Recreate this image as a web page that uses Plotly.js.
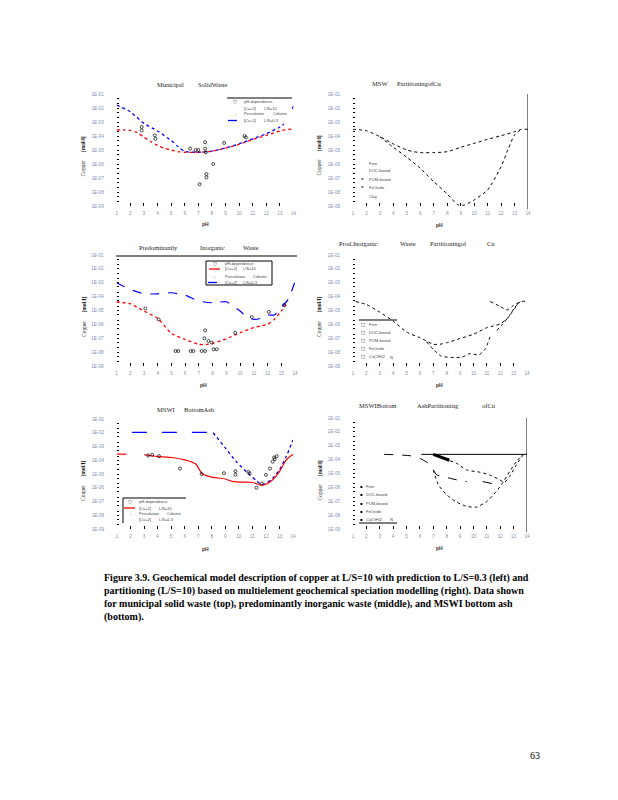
<!DOCTYPE html>
<html><head><meta charset="utf-8">
<script src="https://cdn.plot.ly/plotly-3.0.1.min.js"></script>
<style>html,body{margin:0;padding:0;background:#fff}#chart{width:618px;height:800px}</style>
</head><body><div id="chart"></div>
<script>
// ---------- tick labels ----------
const pHTicks = [1,2,3,4,5,6,7,8,9,10,11,12,13,14];
const concTickVals = [1e-1,1e-2,1e-3,1e-4,1e-5,1e-6,1e-7,1e-8,1e-9];
const concTickText = ['1E-01','1E-02','1E-03','1E-04','1E-05','1E-06','1E-07','1E-08','1E-09'];

// ---------- Municipal Solid Waste (left) ----------
const mswLS10X = [1,1.5,2,2.5,3,3.5,4,4.5,5,5.5,6,7,8,9,10,11,12,13,14];
const mswLS10Y = [2.8e-4,2.7e-4,2.5e-4,1.8e-4,8.3e-5,4.0e-5,2.1e-5,1.35e-5,1.0e-5,7.6e-6,6.9e-6,6.9e-6,8.3e-6,1.35e-5,2.5e-5,5.6e-5,1.1e-4,2.3e-4,3.3e-4];
const mswLS03X = [1,2,3,4,5,5.5,6,7,8,9,10,11,12,13,13.3,null,13.9,14];
const mswLS03Y = [1.6e-2,5.4e-3,7.9e-4,2.3e-4,4.8e-5,1.8e-5,7.9e-6,6.9e-6,8.3e-6,1.4e-5,2.75e-5,6.3e-5,1.45e-4,4.4e-4,7.1e-4,null,8.9e-3,1.35e-2];
const mswPhDepX = [2.84,2.84,3.8,3.85,6.4,6.8,7.0,7.1,7.5,7.5,7.55,7.6,7.6,8.1,8.9,10.4,10.5];
const mswPhDepY = [4.4e-4,2.5e-4,1.1e-4,6.3e-5,1.26e-5,1.0e-5,1.0e-5,3.6e-8,3.6e-5,1.26e-5,6.9e-6,1.1e-7,1.9e-7,1.0e-6,3.2e-5,1.0e-4,7.9e-5];

// ---------- MSW partitioning (right) ----------
const mswFreeX = [1,2,3,4,5,5.5,6,7,8,9,10,11,12,13,13.5,14];
const mswFreeY = [3.0e-4,2.4e-4,8.9e-5,2.7e-5,1.0e-5,7.6e-6,6.5e-6,6.5e-6,7.6e-6,1.55e-5,3.0e-5,5.8e-5,1.05e-4,2.0e-4,3.0e-4,3.0e-4];
const mswDocX = [3,4,5,6,7,8,8.8,9.3,10,11,12,12.5,13,13.5];
const mswDocY = [8.9e-5,1.55e-5,3.0e-6,4.9e-7,5.5e-8,7.2e-9,1.2e-9,1.2e-9,2.7e-9,1.4e-8,6.5e-7,1.0e-5,1.2e-4,3.0e-4];

// ---------- Predominantly Inorganic Waste (left) ----------
const piwLS10X = [1,2,3,4,5,6,7,7.5,8,9,10,11,11.5,12,12.5,13,13.5];
const piwLS10Y = [4.1e-5,3.1e-5,9.1e-6,2.7e-6,2.2e-7,8.3e-8,3.6e-8,3.6e-8,4.3e-8,9.3e-8,2.5e-7,5.8e-7,7.6e-7,1.0e-6,2.3e-6,9.1e-6,4.1e-5];
const piwLS03X = [1,2,3,4,5,6,7,8,8.5,9,9.5,10,10.5,11,11.5,12,12.5,13,13.5,14];
const piwLS03Y = [1.0e-3,3.3e-4,1.6e-4,1.6e-4,1.9e-4,1.26e-4,4.8e-5,3.6e-5,4.0e-5,4.3e-5,2.0e-5,9.1e-6,3.4e-6,2.3e-6,2.7e-6,4.7e-6,4.7e-6,1.6e-5,6.3e-5,1.2e-3];
const piwPhDepX = [3.1,4.07,5.3,5.5,6.4,6.6,7.2,7.45,7.46,7.4,7.7,7.95,8.07,8.3,9.64,10.85,12.1,13.2];
const piwPhDepY = [1.4e-5,2.3e-6,1.2e-8,1.2e-8,1.2e-8,1.2e-8,1.2e-8,1.2e-8,3.7e-7,1.0e-7,6.3e-8,4.8e-8,1.6e-8,1.6e-8,2.5e-7,3.4e-6,7.9e-6,2.5e-5];

// ---------- Prod. Inorganic Waste partitioning (right) ----------
const piwFreeX = [1.2,2,3,4,5,6,7,7.5,8,9,10,11,11.5,12,12.5,13,13.5,14];
const piwFreeY = [4.4e-5,2.7e-5,7.6e-6,1.74e-6,2.8e-7,1.1e-7,3.7e-8,3.7e-8,4.7e-8,9.5e-8,1.95e-7,5.8e-7,7.6e-7,1.1e-6,2.5e-6,1.1e-5,4.4e-5,4.4e-5];
const piwDocX = [6.5,7,7.6,8.3,9.1,9.75,10.4,10.9,11.25,null,11.75,12.2,12.7,13.1,13.5];
const piwDocY = [5.5e-8,1.55e-8,5.1e-9,4.2e-9,4.2e-9,7.9e-9,6.3e-9,1.8e-8,1.4e-7,null,3.7e-7,1.1e-6,4.4e-6,1.74e-5,4.4e-5];
const piwPomX = [11.25,12,12.5,13,13.5];
const piwPomY = [4.4e-5,1.95e-5,1.1e-5,2.3e-5,4.4e-5];

// ---------- MSWI Bottom Ash (left) ----------
const baLS10X = [1,1.7,null,3,4,5,6,6.8,7.1,7.3,7.5,8,9,9.5,10,11,11.5,12,12.5,13,13.5,14];
const baLS10Y = [2.75e-4,2.75e-4,null,2.5e-4,1.86e-4,1.58e-4,1.07e-4,5.5e-5,2.0e-5,1.0e-5,8.3e-6,5.9e-6,4.3e-6,2.9e-6,2.6e-6,2.5e-6,1.66e-6,1.8e-6,3.8e-6,1.5e-5,1.07e-4,2.75e-4];
const baLS03FlatX = [2.1,8.1];
const baLS03FlatY = [1.07e-2,1.07e-2];
const baLS03X = [8.1,9,9.8,10.8,11.3,11.7,12,12.5,13,13.5,14];
const baLS03Y = [1.0e-2,7.9e-4,8.1e-5,8.7e-6,3.2e-6,1.66e-6,2.0e-6,5.0e-6,2.0e-5,1.86e-4,3.0e-3];
const baPhDepX = [3.3,3.6,4.1,5.65,7.25,8.9,9.75,9.75,10.7,10.8,11.3,11.7,12.0,12.3,12.5,12.6,12.65,12.8];
const baPhDepY = [2.2e-4,2.5e-4,2.0e-4,2.5e-5,1.0e-5,1.15e-5,1.6e-5,8.9e-6,1.4e-5,1.1e-5,1.0e-6,2.0e-6,8.7e-6,2.5e-5,7.9e-5,1.6e-4,1.2e-4,2.0e-4];

// ---------- MSWI Bottom Ash partitioning (right) ----------
const baFreeX = [3.33,5.27,6.0,6.63,7.0,7.25,7.75,8.74,9.5,null,10.7,11.6];
const baFreeY = [2.4e-4,1.9e-4,1.23e-4,5.4e-5,1.8e-5,7.9e-6,6.0e-6,3.5e-6,2.6e-6,null,2.6e-6,1.7e-6];
const baDocX = [7.0,7.38,8.0,8.74,9.5,10.23,11.0,11.7,12.2,12.7,13.2,13.7];
const baDocY = [1.8e-5,1.5e-6,2.9e-7,8.7e-8,4.3e-8,3.8e-8,9.8e-8,5.0e-7,2.3e-6,1.35e-5,7.1e-5,2.4e-4];
const baPomX = [7.0,7.75,8.74,9.5,10.5,11.2,11.97,12.3,12.7,13.2,13.7];
const baPomY = [2.4e-4,1.23e-4,5.4e-5,1.8e-5,1.23e-5,7.9e-6,3.5e-6,2.3e-6,6.0e-6,4.1e-5,2.1e-4];
const baFeoX = [7.0,7.5,8.2];
const baFeoY = [2.4e-4,1.55e-4,9.0e-5];
const baCuOHX = [6.1,14];
const baCuOHY = [2.4e-4,2.4e-4];

// ---------- layout helpers ----------
const W = 618, H = 800;
const PX = v => v / W, PY = v => 1 - v / H;
const panels = [
  {x0:116.7, x1:293.5, y0:94,  y1:206},
  {x0:353,   x1:528,   y0:94,  y1:206},
  {x0:116.5, x1:295,   y0:255, y1:366},
  {x0:353,   x1:527,   y0:255, y1:366},
  {x0:117,   x1:293,   y0:419, y1:529},
  {x0:353,   x1:527,   y0:418, y1:529}
];
const tickFont = {family:'Liberation Sans', size:4.6, color:'#7f8daf'};
const layout = {
  width:W, height:H, margin:{l:0,r:0,t:0,b:0},
  paper_bgcolor:'#fff', plot_bgcolor:'rgba(0,0,0,0)', showlegend:false,
  annotations:[], shapes:[]
};
panels.forEach((p,i) => {
  const n = i === 0 ? '' : String(i+1);
  layout['xaxis'+n] = {
    domain:[PX(p.x0), PX(p.x1)], range:[1,14], anchor:'y'+n,
    showgrid:false, zeroline:false, showline:false,
    tickmode:'array', tickvals:pHTicks, ticktext:pHTicks.map(String),
    ticks:'inside', ticklen:3, tickwidth:1, tickcolor:'#000',
    tickfont:tickFont, ticklabelstandoff:3, fixedrange:true
  };
  layout['yaxis'+n] = {
    domain:[PY(p.y1), PY(p.y0)], type:'log', range:[-9,-1], anchor:'x'+n,
    showgrid:false, zeroline:false, showline:false,
    tickmode:'array', tickvals:concTickVals, ticktext:concTickText,
    ticks:'inside', ticklen:2, tickwidth:1, tickcolor:'#000',
    minor:{ticks:'inside', ticklen:2, tickwidth:1, tickcolor:'#000', dtick:'D2', showgrid:false},
    tickfont:tickFont, ticklabelstandoff:12, fixedrange:true
  };
});

const traces = [];
function line(n, x, y, color, dash, width, shape) {
  traces.push({type:'scatter', mode:'lines', x:x, y:y, xaxis:'x'+n, yaxis:'y'+n,
    line:{color:color, dash:dash, width:width, shape:shape||'spline', smoothing:0.6},
    connectgaps:false, cliponaxis:false, hoverinfo:'skip'});
}
function pts(n, x, y) {
  traces.push({type:'scatter', mode:'markers', x:x, y:y, xaxis:'x'+n, yaxis:'y'+n,
    marker:{symbol:'circle-open', size:3, color:'#000', line:{width:0.7, color:'#000'}},
    cliponaxis:false, hoverinfo:'skip'});
}
// left panels
line('', mswLS03X, mswLS03Y, '#0000ff', 'dot', 1.3);
line('', mswLS10X, mswLS10Y, '#ff0000', 'dot', 1.3);
pts('', mswPhDepX, mswPhDepY);
line('3', piwLS03X, piwLS03Y, '#0000ff', 'dash', 1.2);
line('3', piwLS10X, piwLS10Y, '#ff0000', 'dot', 1.3);
pts('3', piwPhDepX, piwPhDepY);
line('5', baLS03FlatX, baLS03FlatY, '#0000ff', 'longdash', 1.2, 'linear');
line('5', baLS03X, baLS03Y, '#0000ff', 'dot', 1.3);
line('5', baLS10X, baLS10Y, '#ff0000', 'solid', 1.2);
pts('5', baPhDepX, baPhDepY);
// right panels
line('2', mswFreeX, mswFreeY, '#000', 'dot', 1);
line('2', mswDocX, mswDocY, '#000', 'dot', 1);
line('4', piwFreeX, piwFreeY, '#000', 'dot', 1);
line('4', piwDocX, piwDocY, '#000', 'dot', 1);
line('4', piwPomX, piwPomY, '#000', 'dot', 1);
line('6', baFreeX, baFreeY, '#000', 'dash', 1);
line('6', baDocX, baDocY, '#000', 'dot', 1);
line('6', baPomX, baPomY, '#000', 'dot', 1);
line('6', baFeoX, baFeoY, '#000', 'solid', 3, 'linear');
line('6', baCuOHX, baCuOHY, '#000', 'solid', 1, 'linear');

// ---------- text helpers ----------
function txt(x, y, t, size, opts) {
  opts = opts || {};
  layout.annotations.push({xref:'paper', yref:'paper', x:PX(x), y:PY(y), text:t,
    showarrow:false, xanchor:opts.anchor||'center', yanchor:'middle',
    textangle:opts.angle||0,
    font:{family:opts.family||'Liberation Serif', size:size, color:opts.color||'#222'}});
}
function seg(x0,y0,x1,y1,color,width,dash) {
  layout.shapes.push({type:'line', xref:'paper', yref:'paper', x0:PX(x0), y0:PY(y0), x1:PX(x1), y1:PY(y1),
    line:{color:color||'#000', width:width||1, dash:dash||'solid'}});
}
// panel titles
[['Municipal',170,85],['SolidWaste',213,85],
 ['MSW',380,83],['PartitioningofCu',419,83],
 ['Predominantly',158,247],['Inorganic',212,247],['Waste',251,247],
 ['Prod.Inorganic',358,244],['Waste',408,244],['Partitioningof',448,244],['Cu',491,244],
 ['MSWI',166,409],['BottomAsh',199,409],
 ['MSWIBottom',378,405],['AshPartitioning',438,405],['ofCu',489,405]
].forEach(a => txt(a[1], a[2], a[0], 6.5));
// y-axis titles and pH labels
[[83,156.5],[318.5,156],[83.5,317.5],[318.5,317.5],[83,481],[319.5,481]].forEach(a =>
  txt(a[0], a[1], 'Copper      <b>[mol/l]</b>', 5.5, {angle:-90, color:'#111'}));
[[205,224],[439,225],[203,385],[439,385],[205,549],[439,548]].forEach(a =>
  txt(a[0], a[1], '<b>pH</b>', 5, {color:'#333', family:'Liberation Sans'}));

// left-panel legends
const lf = 4;
const legOpt = {anchor:'left', family:'Liberation Sans', color:'#444'};
function leftLegend(sx, tx, c2a, c2b, rows, topLine, redLine) {
  txt(sx, rows[0], '○', 4.5, {color:'#000', family:'DejaVu Sans'});
  txt(tx, rows[0], 'pH-dependence', lf, legOpt);
  txt(tx, rows[1], '[Cu+2]', lf, legOpt); txt(c2a, rows[1], 'L/S=10', lf, legOpt);
  txt(sx, rows[2], ':', 5, {color:'#000', family:'Liberation Sans'});
  txt(tx, rows[2], 'Percolation', lf, legOpt); txt(c2b, rows[2], 'Column', lf, legOpt);
  txt(tx, rows[3], '[Cu+2]', lf, legOpt); txt(c2a, rows[3], 'L/S=0.3', lf, legOpt);
  if (redLine) seg(sx-6, rows[1], sx+5, rows[1], '#ff0000', 1.3);
}
leftLegend(235, 242, 262, 271, [101.5,108,114,120.5]);
seg(228,120.5,240,120.5,'#0000ff',1.3,'dash');
seg(227,98,292,98,'#000',1);
leftLegend(215, 223, 241, 251, [263,269,277,282.5], true, true);
seg(208,282.5,220,282.5,'#0000ff',1.3,'dash');
seg(116,256,297,256,'#000',1.2);
layout.shapes.push({type:'rect', xref:'paper', yref:'paper', x0:PX(206), y0:PY(285), x1:PX(272), y1:PY(261), line:{color:'#000', width:1}});
leftLegend(130, 137, 157, 165, [502,508,513.5,519], true, true);
seg(123,498,186,498,'#000',1); seg(123,498,123,523,'#000',1);

// right-panel legends
const species1 = ['Free','DOC-bound','POM-bound','FeOxide','Clay'];
const species2 = ['Free','DOC-bound','POM-bound','FeOxide','Cu(OH)2'];
[163.3,170.7,179,187.7,196].forEach((y,i) => {
  txt(367, y, species1[i], lf, legOpt);
  if (i === 2 || i === 3) txt(362, y, '=', 4.5, {color:'#000', family:'Liberation Sans'});
});
[324,332,340,348,356.5].forEach((y,i) => {
  txt(363, y, '□', 4.5, {color:'#000', family:'DejaVu Sans'});
  txt(367, y, species2[i], lf, legOpt);
});
txt(391, 357, 'N', 4, {color:'#444', family:'Liberation Sans'});
seg(359,320,397,320,'#000',1);
[486,494.3,503,511,519].forEach((y,i) => {
  txt(361, y, '▪', 4, {color:'#000', family:'DejaVu Sans'});
  txt(364, y, species2[i], lf, legOpt);
});
txt(391, 519, 'N', 4, {color:'#444', family:'Liberation Sans'});
seg(359,523,397,523,'#000',1);
// right-edge frame lines
['2','6'].forEach(n => layout.shapes.push({type:'line', xref:'x'+n, yref:'y'+n+' domain',
  x0:14, x1:14, y0:-0.03, y1:1.0, line:{color:'#000', width:1}}));

// caption + page number
const caption = [
  'Figure 3.9. Geochemical model description of copper at L/S=10 with prediction to L/S=0.3 (left) and',
  'partitioning (L/S=10) based on multielement geochemical speciation modelling (right). Data shown',
  'for municipal solid waste (top), predominantly inorganic waste (middle), and MSWI bottom ash',
  '(bottom).'
];
caption.forEach((t,i) => txt(102, 578 + i*13, '<b>'+t+'</b>', 10, {anchor:'left', color:'#000'}));
txt(535, 755, '63', 10, {color:'#000'});

Plotly.newPlot('chart', traces, layout, {staticPlot:true, displayModeBar:false});
</script></body></html>
